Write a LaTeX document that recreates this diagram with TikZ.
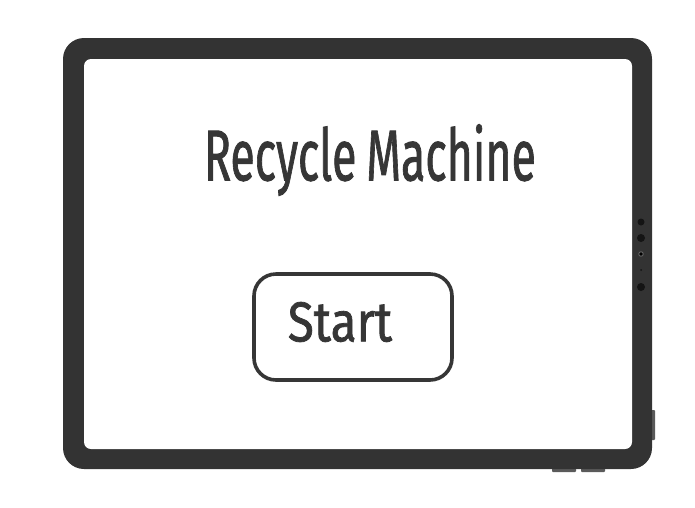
\documentclass[tikz,border=0pt]{standalone}
\usepackage{fontspec}
\setmainfont{Fira Sans}
\newfontfamily\hand[FakeBold=1.4]{Fira Sans}
\definecolor{bezel}{HTML}{333333}
\definecolor{ink}{HTML}{363636}
\definecolor{btn}{HTML}{5A5A5A}
\tikzset{
  dot/.style={circle, fill=black!92, inner sep=0pt},
  sidebtn/.style={fill=btn, draw=none},
}
\begin{document}
\begin{tikzpicture}[x=1pt, y=-1pt]
\useasboundingbox (0, 0) rectangle (695, 507);

% buttons on the edges
\fill[sidebtn, rounded corners=1pt] (650, 410) rectangle (655, 440);
\fill[sidebtn, rounded corners=1pt] (552, 466) rectangle (576, 472);
\fill[sidebtn, rounded corners=1pt] (581, 466) rectangle (605, 472);

% tablet body and screen
\fill[bezel, rounded corners=21pt] (63, 38) rectangle (652, 469);
\fill[white, rounded corners=7pt] (84, 59) rectangle (632, 449);

% camera and sensors
\node[dot, minimum size=7pt] (s1) at (641, 222) {};
\node[dot, minimum size=8pt] (s2) at (641, 238) {};
\node[circle, draw=black!60, line width=0.9pt, fill=black, inner sep=0pt, minimum size=4.5pt] (s3) at (641, 254) {};
\node[dot, minimum size=2pt] (s4) at (641, 270) {};
\node[dot, minimum size=8pt] (s5) at (641, 287) {};

% screen content
\node[text=ink] (title) at (370, 160) {\scalebox{0.62}[1]{\hand\fontsize{72}{80}\selectfont Recycle\hspace{16pt}Machine}};

\node[draw=ink, line width=3.6pt, rounded corners=22pt, minimum width=198pt, minimum height=106pt] (startbox) at (353, 327) {};
\node[text=ink] (start) at (340, 322) {\scalebox{0.85}[1]{\hand\fontsize{56}{60}\selectfont Start}};
\end{tikzpicture}
\end{document}
